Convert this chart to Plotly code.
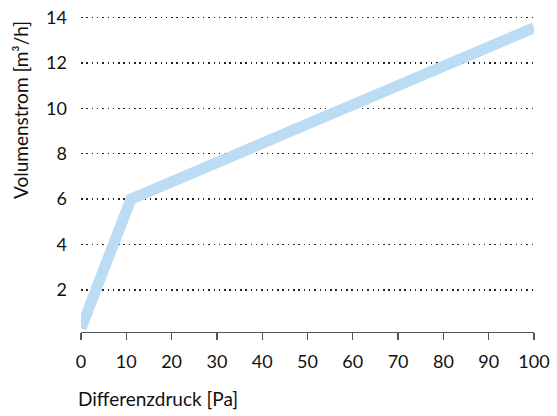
import plotly.graph_objects as go

pressure = [0, 11, 100]
flow = [0.3, 6.0, 13.55]
x_ticks = [0, 10, 20, 30, 40, 50, 60, 70, 80, 90, 100]
y_ticks = [2, 4, 6, 8, 10, 12, 14]

fig = go.Figure()
fig.add_trace(go.Scatter(x=pressure, y=flow, mode="lines",
                         line=dict(color="#bcdcf3", width=11), hoverinfo="skip",
                         cliponaxis=False))

font = "Lato, 'DejaVu Sans', sans-serif"
L, R, T, B = 81, 23, 10, 84
W, H = 557, 416
pw, ph = W - L - R, H - T - B

fig.update_layout(
    width=W, height=H,
    margin=dict(l=L, r=R, t=T, b=B, autoexpand=False),
    paper_bgcolor="white", plot_bgcolor="white",
    showlegend=False,
    font=dict(family=font, color="#111", size=18),
    xaxis=dict(range=[0, 100], tickvals=x_ticks, showgrid=False, zeroline=False,
               showline=True, linecolor="#555", linewidth=1.3, automargin=False,
               ticks="outside", ticklen=7, tickcolor="#555", tickwidth=1.3,
               tickfont=dict(size=18), ticklabelstandoff=6),
    yaxis=dict(range=[0.15, 14.33], tickvals=y_ticks, showgrid=True,
               gridcolor="#222", griddash="1.5px,3.8px", gridwidth=1.4,
               zeroline=False, showline=False, ticks="", automargin=False,
               tickfont=dict(size=18), ticklabelstandoff=13),
    annotations=[
        dict(text="Differenzdruck [Pa]", xref="paper", yref="paper",
             x=(76 - L) / pw, y=(H - B - 398) / ph, xanchor="left", yanchor="middle",
             showarrow=False, font=dict(size=19)),
        dict(text="Volumenstrom [m³/h]", xref="paper", yref="paper",
             x=(20 - L) / pw, y=(H - B - 110) / ph, xanchor="center", yanchor="middle",
             textangle=-90, showarrow=False, font=dict(size=19)),
    ],
)
fig.write_html("out.html", config={"displayModeBar": False, "staticPlot": True},
               post_script="document.body.style.margin='0';")
